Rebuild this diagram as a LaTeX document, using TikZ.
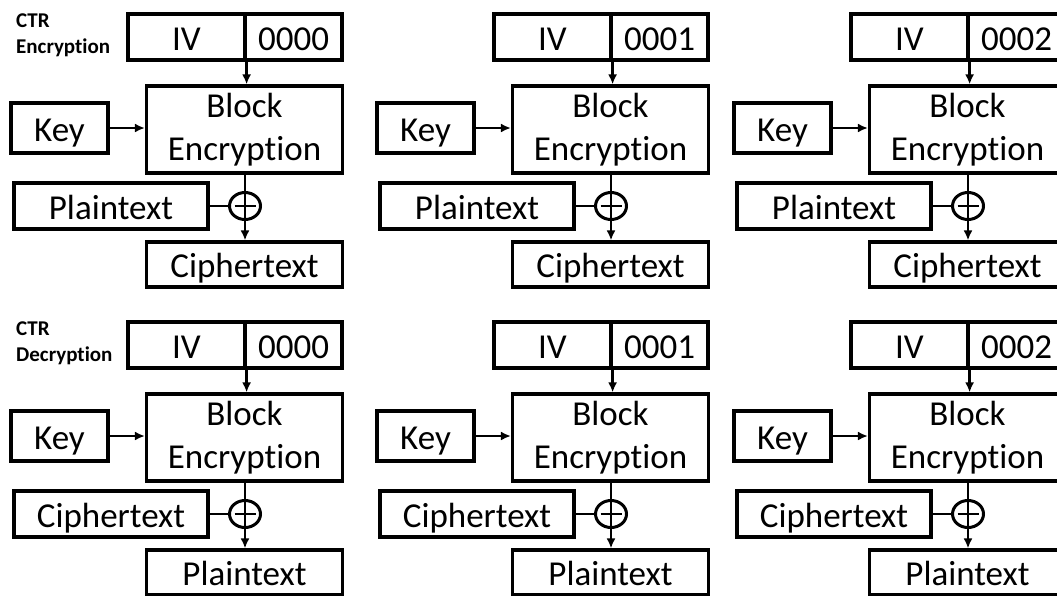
\documentclass[tikz,border=0pt]{standalone}
\usepackage{fontspec}
\setmainfont[Ligatures=NoCommon]{Carlito}
\usetikzlibrary{arrows.meta}
\usetikzlibrary{shapes.geometric}
\tikzset{>={Latex[length=10pt, width=9pt]},
         box/.style = {draw, line width=3.2pt, inner sep=0pt,
                       minimum height=46pt, text height=26pt, text depth=0pt,
                       font=\fontsize{35}{43}\selectfont},
         blkbox/.style = {draw, line width=3.2pt, inner sep=0pt, align=center,
                          minimum width=196pt, minimum height=87pt,
                          font=\fontsize{35}{43}\selectfont},
         xorsym/.style = {draw, ellipse, line width=3pt, inner sep=0pt,
                          minimum width=31pt, minimum height=27pt,
                          path picture={\draw [line width=2.8pt]
                            ([xshift=5pt]path picture bounding box.west) --
                            ([xshift=-5pt]path picture bounding box.east);}},
         wire/.style = {line width=2.8pt},
         tag/.style = {anchor=north west, inner sep=0pt, align=left,
                       font=\fontsize{21}{26}\selectfont\bfseries}}
\begin{document}
\begin{tikzpicture}[x=1pt, y=-1pt]
    \useasboundingbox (0, 0) rectangle (1057, 595);
    \clip (0, 0) rectangle (1057, 595);
    \node [tag] (tagE) at (16, 14) {CTR\\Encryption};
    \node [tag] (tagD) at (16, 322) {CTR\\Decryption};
    \foreach \dx/\dy/\p/\cnt/\txtin/\txtout in {0/0/a/0000/Plaintext/Ciphertext,
        366/0/b/0001/Plaintext/Ciphertext, 723/0/c/0002/Plaintext/Ciphertext,
        0/308/d/0000/Ciphertext/Plaintext, 366/308/e/0001/Ciphertext/Plaintext,
        723/308/f/0002/Ciphertext/Plaintext} {
      \begin{scope}[shift={(\dx, \dy)}]
        \node [box, minimum width=117pt] (iv\p) at (186.5, 37) {IV};
        \node [box, minimum width=97pt] (ctr\p) at (293.5, 37) {\cnt};
        \node [blkbox] (blk\p) at (244.5, 129.5) {Block\\Encryption};
        \node [box, minimum width=97pt, minimum height=50pt] (key\p) at (59.5, 128) {Key};
        \node [box, minimum width=194pt] (in\p) at (111, 206) {\txtin};
        \node [xorsym] (xor\p) at (245, 206) {};
        \node [box, minimum width=196pt, minimum height=45pt] (out\p) at (244.5, 264.5) {\txtout};
        \draw [wire, ->] (iv\p.south east) -- (blk\p.north -| iv\p.south east);
        \draw [wire, ->] (key\p.east) -- (key\p.east -| blk\p.west);
        \draw [wire] (in\p.east) -- (xor\p.west);
        \draw [wire, ->] (blk\p.south -| xor\p) -- (out\p.north -| xor\p);
      \end{scope}
    }
\end{tikzpicture}
\end{document}
